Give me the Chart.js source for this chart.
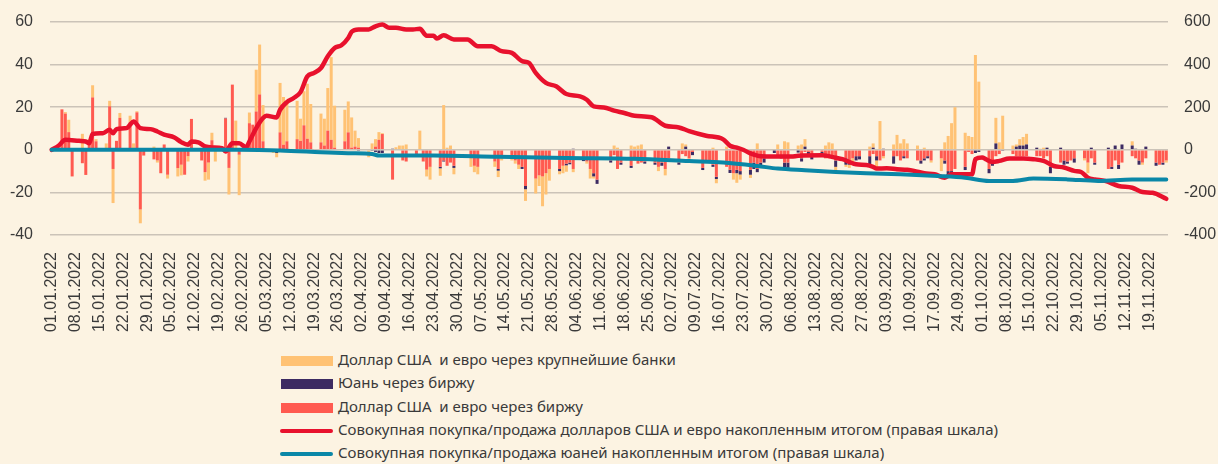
<!DOCTYPE html>
<html>
<head>
<meta charset="utf-8">
<script src="https://cdn.jsdelivr.net/npm/chart.js@4"></script>
<style>
  body { margin: 0; background: #fcf3e2; }
  #wrap { position: relative; width: 1218px; height: 464px; background: #fcf3e2; }
  #box { position: absolute; left: 0; top: 0; width: 1218px; height: 345px; }
  #legend { position: absolute; left: 280px; top: 348px; font-family: "Noto Sans", sans-serif; font-size: 15px; color: #3a3a3a; }
  #legend div { height: 23.3px; line-height: 23.3px; white-space: pre; }
  #legend span.sw { display: inline-block; vertical-align: middle; margin-right: 5px; }
  #legend span.bar { width: 52px; height: 10px; margin-left: 1px; }
  #legend span.ln { width: 53px; height: 4px; border-radius: 2px; }
</style>
</head>
<body>
<div id="wrap">
  <div id="box"><canvas id="chart"></canvas></div>
  <div id="legend"></div>
</div>
<script>
// daily series, one value per weekday from Mon 03.01.2022 to Thu 24.11.2022 (null = no trading)
var usdBanks = [
  0, 0, 0.7, 5.8, 0,   7.5, 0, 2, 5.7, 1,   3, 2.6, -16, 0, 2.3,   3, 3, 0.5, -6.5, 0,
  1.5, -1, 0, 0, -1.8,   -3.9, -5, 0, -2.5, 0,   0, -4, -8, 3.5, -5.5,   0, -12.5, 0, 13.7, -19,
  5, 0, 19.6, 23.4, 17,   -1.5, -2, 23.2, 22.4, 18,   18, 10.4, 16, 25.8, 18,   13.5, 12.6, 20, 38.8, 19.7,
  14.8, 14.5, 14.2, 7.5, 4.5,   -3.5, 3, 3.5, 3.6, 0.4,   0, 1.2, 2, 2, 2.5,   0, 9, 0, -3.2, -6,
  -3.5, 21, 1, 2, -3,   null, null, -4, -3, -3.5,   null, null, -2.5, -3, -1.5,   -1, -1.5, -2, 0, -5.5,
  -7, -5, -14, -10, -5.5,   -1.5, -3.5, -3, 0, -1.5,   0, -1, -4.5, -1, 0,   null, 0, 2, 1, 0,
  2, 1.5, 2, 2.5, 0,   0, -2, 0, -3, 0,   0, 3, 1, -2, 0,   0, 0, 0, 1, -2,
  1.5, 0, -3, -4.5, -2.4,   -1.5, 0, 3, 0, 0,   0, 2.5, 0, 4, 3.5,   2, 2.5, 3.5, 0, 0,
  0, 2, 3.5, 3, -2,   -1, -1.5, -3, 0, 0,   1.5, 2, -4, 13.5, -1,   2.5, 7, 3, 5, 3,
  2, 0, 1, 0, -1,   -6, 3.5, 6.5, 12.5, 20,   8, 6.5, 6, 44.5, 32,   0, 0, 12, 3.5, 16,
  2, 1, 3, 4, 5,   0, 0.5, 1, 0, 0,   0, 0, 0, 0, 0,   -1, -5, 0, 0, null,
  0, 0, 0, 0, 0,   2, 0, 0, -1, 0,   0, 0, 0, -1
];
var yuanExchange = [
  -0.5, 0, 0, 0, 0,   0, 0, 0, 0, 0,   0, 0, 0, 0, 0,   0, 0, 0, 0, 0,
  0, 0, 0, 0, 0,   0, 0, 0, 0, 0,   0, 0, 0, 0, 0,   0.3, 0, 0, 0, 0,
  0, 0, 0, 0, 0,   0, -1.5, 0, 0, 0,   0, 0, 0, 0, 0,   0, 0, 0, 0, 0,
  0, 0, 0, 0, -0.5,   0, -0.5, -1, -1.5, -1.5,   0.5, 0, 0, 0, 0,   0, 0, 0, 0, 0,
  -0.7, -0.5, 0, 0, -1,   null, null, 0, 0, 0,   null, null, 0, -0.8, 0,   0, 0, 0, -1, -1.5,
  0, 0, 0, 0, 0,   -1, 0, -0.8, -0.8, 0.5,   -0.8, 0, 0, -1.5, -2,   null, -1, 0, 0, -1,
  -1, 0, 0, 0, -1,   -1, 0, -1.5, 0, 1.5,   -1, 0, 1.5, 0, -1.5,   -1, 0, 0, -1, -1,
  0, -1.5, 0, -1.6, -1.6,   -2.3, -3, -1.5, -1.5, -2,   -1.5, 0, -1, -2.5, -2.5,   -1.3, -1.5, 1.5, -1.2, -1.5,
  -1.5, 0, 0, 0, -3,   -3, -2, 0, -2, -1.5,   -4, 1, -2, 0, 0.5,   -3.5, 0, 0, -1, 0,
  0, -1.5, -1, -1, 0,   0, -1.5, -2, -1, 0,   -1.5, 0, 0, -1.5, -1,   -2, -2, 3, 0, -0.5,
  0, 1.5, 2, 2, 2.5,   1, 0, 0, 1, -3,   1, -2, -1, 0, -2,   0, 0, 1, -1, null,
  1, -1, 2, -2, 2.5,   2, 0.5, -2, 0, 1.5,   -1.5, 0, -1, 0
];
var usdExchange = [
  0, 19, 17, 8.3, -12.5,   -6.3, -11.8, 3, 24.6, 4,   0, 20.4, -9, 4.2, 15,   13, 0, 17.6, -28, -2.7,
  -4.5, -5, -11, 2.5, -11.7,   -8.6, -7, -11.7, -3, 14.5,   -5, -10.5, -6, 4.5, 0,   14.7, -8.5, 30.6, 0, -2.3,
  12.5, 11.8, 18, 26, 4,   0, 0, 8.2, 2.4, 4,   5, 4.2, 11.5, 5.2, 3.5,   3.5, 2, 9, 4.7, 1,
  4, 8.2, 1, 1.5, 1,   0, 0, 1.5, 4.7, 7.4,   -14, 0, 0, -5, -5.5,   -3, 0, -5.5, -9.3, -8,
  -8, -5, -7.5, -6, -7.5,   null, null, -4, -7.5, -8,   null, null, -5.5, -9, -3.5,   -4, -5, -7, -8, -17,
  -13.5, -12, -12.5, -11, -9,   -9, -7.5, -6.5, -6, -9,   -4.5, -5.5, -9, -11, -14,   null, -5, -2.5, -9, -6,
  -7.5, -5, -6.5, -6, -5.5,   -6, -8, -6, -9, -4,   -6, -2, -3, -4, -1,   -8.5, -5.5, -6, -7, -12.7,
  -8, -9.4, -11, -9.4, -10,   -9.4, -6, -9, -6, -4,   0, -3, -3, -6, -6,   0, -4, -1, -1, -3,
  -1, -4, -4, -3, -5,   -4, -5, -4, -3, -3,   -3, -2, -3, -5, -3,   -3, -3, -5, -3, -4,
  -5, -5, -4, -3, -5,   -4, -5, -10, -10, -9,   -8, -1, -2, 0, 0,   -9, -5.5, -3, -2, 0,
  -2, -3, -3, -3, -3,   -3, -3, -4, -3, -8,   -6, -5, -5.5, -5, -4,   -4, -6, -4, -6, null,
  -9, -8, -5, -7, -6,   -3, -4, -5, -6, -4,   -6, -7, -6, -5
];

// cumulative lines (right scale), read at the listed dates
var usdCumDates = ['01.01','03.01','05.01','09.01','11.01','12.01','13.01','16.01','18.01','19.01','20.01','23.01','24.01','25.01','27.01','30.01',
  '01.02','03.02','06.02','08.02','10.02','11.02','13.02','15.02','17.02','20.02','21.02','23.02','25.02','27.02','28.02',
  '02.03','04.03','05.03','08.03','09.03','11.03','13.03','15.03','17.03','19.03','21.03','23.03','25.03','27.03','29.03','30.03',
  '01.04','04.04','06.04','08.04','10.04','12.04','15.04','17.04','19.04','21.04','23.04','24.04','26.04','29.04',
  '03.05','06.05','10.05','13.05','16.05','19.05','21.05','23.05','26.05','29.05',
  '01.06','05.06','07.06','09.06','12.06','15.06','18.06','21.06','26.06','30.06',
  '04.07','07.07','12.07','17.07','19.07','21.07','23.07','25.07','28.07',
  '06.08','08.08','15.08','19.08','21.08','25.08','28.08','30.08','31.08',
  '03.09','06.09','09.09','11.09','14.09','17.09','20.09','22.09','28.09','29.09',
  '01.10','02.10','04.10','06.10','09.10','13.10','16.10','19.10','22.10','25.10','28.10','30.10',
  '01.11','03.11','06.11','10.11','14.11','17.11','20.11','24.11'];
var usdCum = [0, 19, 47, 42, 39, 31, 74, 78, 94, 78, 97, 102, 118, 133, 102, 97,
  86, 71, 58, 36, 24, 39, 35, 16, 11, 8, -8, 31, 31, 12, 39,
  102, 149, 160, 152, 188, 224, 243, 271, 345, 361, 384, 439, 478, 491, 525, 554,
  565, 565, 580, 588, 573, 573, 565, 565, 568, 536, 536, 522, 538, 518,
  518, 486, 486, 463, 455, 416, 408, 361, 314, 298,
  262, 251, 235, 204, 199, 184, 173, 160, 153, 113,
  105, 88, 66, 49, 19, 10, -1, -17, -30,
  -32, -28, -26, -37, -44, -68, -71, -80, -88,
  -87, -91, -94, -99, -110, -115, -131, -115, -115, -44,
  -36, -44, -57, -52, -41, -41, -44, -52, -76, -83, -99, -104,
  -131, -139, -146, -170, -178, -198, -202, -230];

var cnyCumDates = ['01.01','25.02','09.03','21.03','29.03','05.04','07.04','23.04','12.05','01.06','21.06','07.07','17.07','27.07',
  '02.08','10.08','19.08','28.08','07.09','18.09','26.09','03.10','10.10','16.10','26.10','04.11','14.11','24.11'];
var cnyCum = [0, 0, -3, -11, -16, -20, -27, -27, -33, -38, -42, -53, -60, -76,
  -88, -96, -104, -110, -115, -123, -131, -146, -146, -135, -139, -146, -139, -139];

var seriesNames = [
  'Доллар США  и евро через крупнейшие банки',
  'Юань через биржу',
  'Доллар США  и евро через биржу',
  'Совокупная покупка/продажа долларов США и евро накопленным итогом (правая шкала)',
  'Совокупная покупка/продажа юаней накопленным итогом (правая шкала)'
];
var seriesColors = ['#ffc274', '#3d2b62', '#ff5a50', '#e8112d', '#0a87a7'];

// calendar axis 01.01.2022 .. 24.11.2022
function pad(n) { return n < 10 ? '0' + n : '' + n; }
var days = [], weekday = [];
var d = new Date(2022, 0, 1);
while (d <= new Date(2022, 10, 24)) {
  days.push(pad(d.getDate()) + '.' + pad(d.getMonth() + 1) + '.2022');
  weekday.push(d.getDay() >= 1 && d.getDay() <= 5);
  d.setDate(d.getDate() + 1);
}

function spread(values) {
  var out = [], k = 0;
  for (var i = 0; i < days.length; i++) {
    out.push(weekday[i] ? values[k++] : null);
  }
  return out;
}
function points(dates, values) {
  return dates.map(function (s, i) { return { x: s + '.2022', y: values[i] }; });
}

// y axes: fixed width, and no extra top/bottom room from the tick padding
function fitY(s) { s.width = 50; s.paddingTop = 10; s.paddingBottom = 10; }

var barOpts = { type: 'bar', yAxisID: 'y', stack: 's', order: 2, barPercentage: 0.88, categoryPercentage: 1 };
var lineOpts = { type: 'line', yAxisID: 'y1', pointRadius: 0, borderWidth: 4.5, tension: 0.3,
  cubicInterpolationMode: 'monotone', borderCapStyle: 'round', borderJoinStyle: 'round', fill: false };

var ctx = document.getElementById('chart').getContext('2d');
new Chart(ctx, {
  data: {
    labels: days,
    datasets: [
      Object.assign({ label: seriesNames[2], data: spread(usdExchange), backgroundColor: seriesColors[2] }, barOpts),
      Object.assign({ label: seriesNames[1], data: spread(yuanExchange), backgroundColor: seriesColors[1] }, barOpts),
      Object.assign({ label: seriesNames[0], data: spread(usdBanks), backgroundColor: seriesColors[0] }, barOpts),
      Object.assign({ label: seriesNames[3], data: points(usdCumDates, usdCum), borderColor: seriesColors[3], order: 1 }, lineOpts),
      Object.assign({ label: seriesNames[4], data: points(cnyCumDates, cnyCum), borderColor: seriesColors[4], order: 0 }, lineOpts, { borderWidth: 4 })
    ]
  },
  options: {
    responsive: true,
    maintainAspectRatio: false,
    animation: false,
    layout: { padding: { top: 22, left: 0, right: 0, bottom: 0 } },
    plugins: { legend: { display: false }, tooltip: { enabled: false } },
    scales: {
      x: {
        type: 'category',
        offset: true,
        stacked: true,
        grid: { display: false },
        border: { display: false },
        ticks: {
          autoSkip: false, minRotation: 90, maxRotation: 90, padding: 9,
          color: '#3a3a3a', font: { family: 'Liberation Sans', size: 16 },
          callback: function (v, i) { return i % 7 === 0 ? days[i] : null; }
        },
        afterFit: function (s) { s.height = 110; }
      },
      y: {
        position: 'left', min: -40, max: 60, stacked: true,
        grid: { color: '#cbc3b8', lineWidth: 1.5, drawTicks: false },
        border: { display: false },
        ticks: { stepSize: 20, padding: 17, color: '#3a3a3a', font: { family: 'Liberation Sans', size: 16 } },
        afterFit: fitY
      },
      y1: {
        position: 'right', min: -400, max: 600,
        grid: { display: false, drawTicks: false },
        border: { display: false },
        ticks: { stepSize: 200, padding: 16, color: '#3a3a3a', font: { family: 'Liberation Sans', size: 16 } },
        afterFit: fitY
      }
    }
  }
});

// legend below the chart, one entry per line
var legendOrder = [0, 1, 2, 3, 4];
var legend = document.getElementById('legend');
legendOrder.forEach(function (i) {
  var row = document.createElement('div');
  var sw = document.createElement('span');
  sw.className = 'sw ' + (i < 3 ? 'bar' : 'ln');
  sw.style.background = seriesColors[i];
  row.appendChild(sw);
  row.appendChild(document.createTextNode(seriesNames[i]));
  legend.appendChild(row);
});
</script>
</body>
</html>
